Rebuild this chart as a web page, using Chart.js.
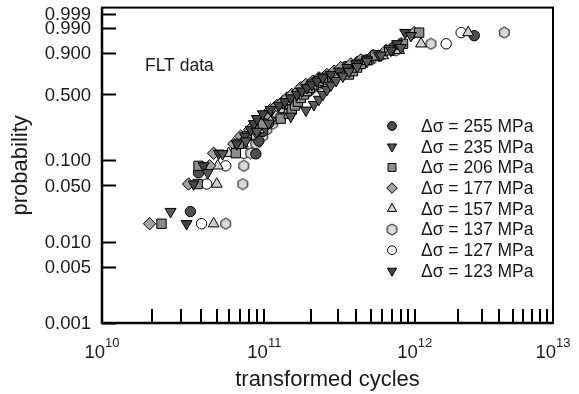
<!DOCTYPE html>
<html lang="en">
<head>
<meta charset="UTF-8">
<title>FLT data</title>
<script src="https://cdn.jsdelivr.net/npm/chart.js"></script>
<style>
  body { margin: 0; background: #fff; }
</style>
</head>
<body>
<canvas id="flt" width="579" height="394"></canvas>
<script>
// failure probability (median ranks)
const prob29 = [0.017, 0.052, 0.086, 0.121, 0.155, 0.190, 0.224, 0.259, 0.293, 0.328,
                0.362, 0.397, 0.431, 0.466, 0.500, 0.534, 0.569, 0.603, 0.638, 0.672,
                0.707, 0.741, 0.776, 0.810, 0.845, 0.879, 0.914, 0.948, 0.983];
const prob21 = [0.024, 0.071, 0.119, 0.167, 0.214, 0.262, 0.310, 0.357, 0.405, 0.452,
                0.500, 0.548, 0.595, 0.643, 0.690, 0.738, 0.786, 0.833, 0.881, 0.929, 0.976];

// transformed cycles, in units of 1e10
const cyc255 = [3.43, 3.85, 8.83, 9.22, 9.77, 10.66, 11.49, 12.56, 13.56, 14.79,
                16.46, 18.01, 19.40, 21.9, 25.5, 29.3, 34.15, 41.7, 52.7, 71.0, 263];
const cyc235 = [2.59, 4.39, 5.44, 7.62, 8.96, 10.66, 14.79, 18.57, 20.93, 22.57,
                23.99, 25.5, 27.07, 29.3, 32.56, 35.74, 40.5, 47.2, 58.7, 80.4, 94.2];
const cyc206 = [2.28, 3.80, 3.85, 6.59, 6.88, 7.73, 8.83, 9.77, 12.74, 14.38,
                15.03, 15.75, 16.46, 17.18, 18.01, 18.84, 19.67, 20.93, 22.57, 23.99,
                35.74, 38.0, 40.5, 42.9, 47.2, 53.5, 66.7, 83.1, 107.4];
const cyc177 = [1.93, 3.34, 4.51, 4.78, 6.40, 7.07, 8.07, 8.83, 9.77, 10.37,
                10.96, 12.03, 13.15, 13.97, 15.03, 16.46, 17.18, 18.57, 20.6, 22.57,
                25.5, 28.4, 31.5, 36.8, 42.9, 51.8, 63.7, 80.4, 99.1];
const cyc157 = [4.78, 5.00, 5.07, 5.94, 7.29, 8.18, 9.22, 9.92, 10.66, 12.03,
                13.15, 13.97, 14.79, 16.22, 17.46, 18.84, 20.28, 21.59, 23.22, 25.9,
                28.8, 31.5, 35.2, 41.1, 48.7, 60.7, 78.0, 110.7, 238];
const cyc137 = [5.69, 7.29, 7.40, 8.18, 8.83, 9.77, 10.37, 11.32, 11.85, 12.74,
                13.56, 14.59, 15.75, 16.70, 18.01, 19.40, 20.6, 22.57, 24.4, 27.07,
                30.6, 34.15, 38.0, 42.9, 50.1, 58.7, 74.5, 129.8, 434];
const cyc127 = [4.02, 4.33, 5.69, 7.40, 7.96, 8.96, 9.92, 10.66, 11.32, 12.03,
                12.95, 13.97, 15.03, 16.22, 17.18, 18.29, 19.67, 21.26, 23.22, 25.5,
                27.96, 31.06, 34.7, 40.5, 47.2, 56.95, 71.0, 166, 212];
const cyc123 = [3.25, 3.59, 4.14, 5.14, 6.68, 7.51, 8.18, 8.57, 8.96, 9.77,
                10.96, 12.38, 13.56, 14.79, 16.22, 17.46, 18.84, 20.28, 21.9, 23.99,
                27.07, 30.6, 34.7, 39.9, 47.2, 56.95, 68.7, 75.7, 85.9];

const yTicks = [0.001, 0.005, 0.010, 0.050, 0.100, 0.500, 0.900, 0.990, 0.999];
const yTickLabels = ['0.001', '0.005', '0.010', '0.050', '0.100', '0.500', '0.900', '0.990', '0.999'];
const xDecades = [1e10, 1e11, 1e12, 1e13];
const xDecadeExp = ['10', '11', '12', '13'];

// weibull probability axis
function weib(p) { return Math.log(-Math.log(1 - p)); }
// the printed log axis is slightly compressed towards the right
function warp(c) { const t = Math.log10(c) - 10; return 168 * t - 6 * t * t; }

const FONT = '"Liberation Sans", Arial, sans-serif';
Chart.defaults.font.family = FONT;

// hexagon marker
function hexMarker(size, fill) {
  const cv = document.createElement('canvas');
  cv.width = size; cv.height = size;
  const c = cv.getContext('2d');
  const r = size / 2 - 1;
  c.beginPath();
  for (let i = 0; i < 6; i++) {
    const a = Math.PI / 6 + i * Math.PI / 3;
    const px = size / 2 + r * Math.cos(a), py = size / 2 + r * Math.sin(a);
    i ? c.lineTo(px, py) : c.moveTo(px, py);
  }
  c.closePath();
  c.fillStyle = fill; c.fill();
  c.lineWidth = 1; c.strokeStyle = '#000'; c.stroke();
  return cv;
}

function pts(cyc, prob) {
  return cyc.map((c, i) => ({ x: warp(c * 1e10), y: weib(prob[i]) }));
}

const series = [
  { label: 'Δσ = 255 MPa', data: pts(cyc255, prob21), style: 'circle', rot: 0, r: 5.2, fill: '#4d4d4d' },
  { label: 'Δσ = 235 MPa', data: pts(cyc235, prob21), style: 'triangle', rot: 180, r: 6.3, fill: '#5a5a5a' },
  { label: 'Δσ = 206 MPa', data: pts(cyc206, prob29), style: 'rect', rot: 0, r: 6.6, fill: '#8c8c8c' },
  { label: 'Δσ = 177 MPa', data: pts(cyc177, prob29), style: 'rectRot', rot: 0, r: 6.2, fill: '#a3a3a3' },
  { label: 'Δσ = 157 MPa', data: pts(cyc157, prob29), style: 'triangle', rot: 0, r: 6.3, fill: '#cfcfcf' },
  { label: 'Δσ = 137 MPa', data: pts(cyc137, prob29), style: hexMarker(13, '#d9d9d9'), rot: 0, r: 6.5, fill: '#d9d9d9' },
  { label: 'Δσ = 127 MPa', data: pts(cyc127, prob29), style: 'circle', rot: 0, r: 5.2, fill: '#ffffff' },
  { label: 'Δσ = 123 MPa', data: pts(cyc123, prob29), style: 'triangle', rot: 180, r: 6.3, fill: '#444444' }
];

const drawOrder = [1, 7, 2, 3, 4, 0, 5, 6];

const xTickVals = [];
for (let d = 10; d < 13; d++) for (let k = 1; k <= 9; k++) if (d > 10 || k > 1) xTickVals.push(k * Math.pow(10, d));

const decor = {
  id: 'decor',
  afterDraw(chart) {
    const { ctx, chartArea: a, scales: { x, y } } = chart;
    ctx.save();
    ctx.strokeStyle = '#000';
    ctx.lineWidth = 2;
    ctx.strokeRect(a.left, a.top, a.right - a.left, a.bottom - a.top);
    ctx.lineWidth = 2.5;
    ctx.beginPath();
    ctx.moveTo(a.left, a.top); ctx.lineTo(a.left, a.bottom); ctx.lineTo(a.right, a.bottom);
    ctx.stroke();
    ctx.lineWidth = 2;
    ctx.beginPath();
    yTicks.forEach(p => {
      const py = Math.round(y.getPixelForValue(weib(p))) + 0.5;
      ctx.moveTo(a.left, py); ctx.lineTo(a.left + 14, py);
    });
    xTickVals.forEach(c => {
      const px = Math.round(x.getPixelForValue(warp(c)));
      ctx.moveTo(px, a.bottom); ctx.lineTo(px, a.bottom - 14);
    });
    ctx.stroke();

    ctx.fillStyle = '#1a1a1a';
    ctx.font = '18.5px ' + FONT;
    ctx.textAlign = 'right';
    ctx.textBaseline = 'middle';
    yTicks.forEach((p, i) => ctx.fillText(yTickLabels[i], a.left - 11, y.getPixelForValue(weib(p)) + 1));

    ctx.textBaseline = 'alphabetic';
    xDecades.forEach((c, i) => {
      const px = x.getPixelForValue(warp(c));
      ctx.font = '18.5px ' + FONT;
      const w1 = ctx.measureText('10').width;
      ctx.font = '13px ' + FONT;
      const w2 = ctx.measureText(xDecadeExp[i]).width;
      const x0 = px - (w1 + w2) / 2;
      ctx.textAlign = 'left';
      ctx.font = '18.5px ' + FONT;
      ctx.fillText('10', x0, 358);
      ctx.font = '13px ' + FONT;
      ctx.fillText(xDecadeExp[i], x0 + w1, 347);
    });

    ctx.textAlign = 'center';
    ctx.font = '22px ' + FONT;
    ctx.fillText('transformed cycles', (a.left + a.right) / 2, 386);
    ctx.save();
    ctx.translate(27, (a.top + a.bottom) / 2);
    ctx.rotate(-Math.PI / 2);
    ctx.fillText('probability', 0, 0);
    ctx.restore();

    ctx.textAlign = 'left';
    ctx.textBaseline = 'middle';
    ctx.font = '17.5px ' + FONT;
    ctx.fillText('FLT data', 145, 66);

    // legend
    series.forEach((s, i) => {
      const ly = 126 + i * 20.7;
      ctx.fillStyle = s.fill;
      ctx.strokeStyle = '#000';
      ctx.lineWidth = 1;
      Chart.helpers.drawPoint(ctx, { pointStyle: s.style, rotation: s.rot, radius: s.r * 0.85, borderWidth: 1 }, 392, ly);
      ctx.fillStyle = '#1a1a1a';
      ctx.font = '17.5px ' + FONT;
      ctx.fillText(s.label, 421, ly + 1);
    });
    ctx.restore();
  }
};

new Chart(document.getElementById('flt'), {
  type: 'scatter',
  data: {
    datasets: drawOrder.map(i => {
      const s = series[i];
      return {
        label: s.label,
        data: s.data,
        pointStyle: s.style,
        rotation: s.rot,
        pointRadius: s.r,
        backgroundColor: s.fill,
        borderColor: '#000',
        borderWidth: 1,
        order: 0
      };
    })
  },
  options: {
    responsive: false,
    animation: false,
    layout: { padding: { top: 6, right: 26, left: 0, bottom: 0 } },
    plugins: { legend: { display: false }, tooltip: { enabled: false } },
    scales: {
      x: {
        type: 'linear', min: 0, max: 450,
        grid: { display: false }, border: { display: false },
        ticks: { display: false },
        afterFit: s => { s.height = 71; }
      },
      y: {
        type: 'linear', min: weib(0.001), max: 2.12,
        grid: { display: false }, border: { display: false },
        ticks: { display: false },
        afterBuildTicks: s => { s.ticks = yTicks.map(p => ({ value: weib(p) })); },
        afterFit: s => { s.width = 102; }
      }
    }
  },
  plugins: [decor]
});
</script>
</body>
</html>
